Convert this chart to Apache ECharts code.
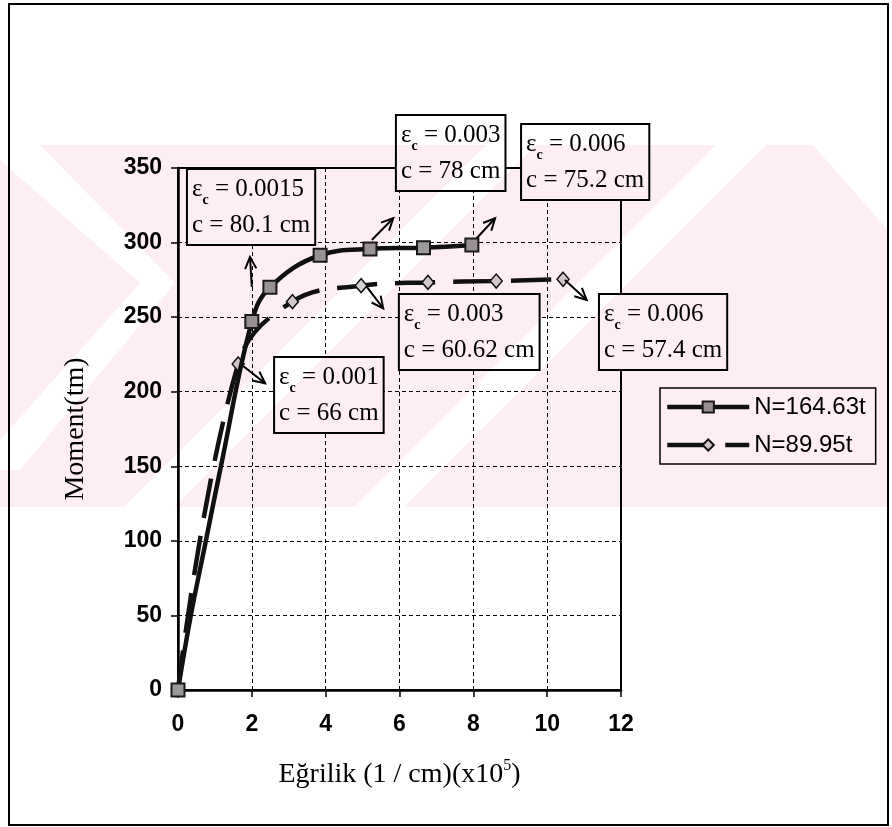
<!DOCTYPE html>
<html><head><meta charset="utf-8">
<script src="https://cdn.jsdelivr.net/npm/echarts@6/dist/echarts.min.js"></script>
<style>html,body{margin:0;padding:0;background:#fff}#c{width:892px;height:827px}</style>
</head><body><div id="c"></div>
<script>
// ---------- data ----------
const xTicks = [0, 2, 4, 6, 8, 10, 12];
const yTicks = [0, 50, 100, 150, 200, 250, 300, 350];
const s1Name = 'N=164.63t';
const s1X = [0, 0.34, 0.75, 1.16, 2.0, 2.49, 3.85, 5.2, 6.65, 7.96];
const s1Y = [0, 49, 99.4, 149.7, 247, 270, 291.5, 295.7, 296.6, 298.4];
const s1Marked = [true, false, false, false, true, true, true, true, true, true];
const s2Name = 'N=89.95t';
const s2X = [0, 1.63, 3.1, 4.96, 6.77, 8.62, 10.43];
const s2Y = [0, 218.6, 260.4, 271.1, 273.3, 274.2, 275.4];
const noteEps = ['0.0015', '0.003', '0.006', '0.001', '0.003', '0.006'];
const noteC = ['80.1', '78', '75.2', '66', '60.62', '57.4'];
// annotation placement (data units)
const noteBox = [[0.27, 348.7], [5.93, 384.9], [9.32, 378.8], [2.63, 222.6], [6.01, 264.8], [11.43, 264.8]];
const arrowFrom = [[2.0, 270.2], [5.25, 301.7], [8.09, 302.9], [1.73, 217.9], [5.11, 270.4], [10.48, 274.9]];
const arrowTo = [[1.95, 290.3], [5.83, 316.3], [8.59, 316.3], [2.36, 205.6], [5.56, 255.9], [11.07, 261.5]];

const chart = echarts.init(document.getElementById('c'), null, {renderer: 'canvas'});
const tickFont = {fontFamily: 'Liberation Sans', fontSize: 23, fontWeight: 'bold', color: '#000'};
const grid = {color: '#000', width: 1, type: [4, 3]};

chart.setOption({
  animation: false,
  backgroundColor: '#fff',
  grid: {left: 178, right: 271, top: 168, bottom: 137, show: true, borderColor: '#000', borderWidth: 2, backgroundColor: 'transparent'},
  xAxis: {
    type: 'value', min: xTicks[0], max: xTicks[xTicks.length - 1], interval: 2,
    axisLine: {show: true, onZero: false, lineStyle: {color: '#000', width: 2.5}},
    axisTick: {show: true, length: 7, lineStyle: {color: '#000', width: 1.5}},
    splitLine: {show: true, lineStyle: grid},
    axisLabel: Object.assign({margin: 23}, tickFont),
    name: 'Eğrilik (1 / cm)(x10{sup|5})',
    nameLocation: 'middle', nameGap: 68,
    nameTextStyle: {fontFamily: 'Liberation Serif', fontSize: 28, color: '#000', lineHeight: 34,
      rich: {sup: {fontFamily: 'Liberation Serif', fontSize: 16, color: '#000', verticalAlign: 'top', lineHeight: 34}}}
  },
  yAxis: {
    type: 'value', min: yTicks[0], max: yTicks[yTicks.length - 1], interval: 50,
    axisLine: {show: true, onZero: false, lineStyle: {color: '#000', width: 2.5}},
    axisTick: {show: true, length: 7, lineStyle: {color: '#000', width: 1.5}},
    splitLine: {show: true, lineStyle: grid},
    axisLabel: Object.assign({margin: 16}, tickFont),
    name: 'Moment(tm)', nameLocation: 'middle', nameGap: 88,
    nameTextStyle: {fontFamily: 'Liberation Serif', fontSize: 28, color: '#000'}
  },
  legend: {
    data: [s1Name, s2Name], orient: 'vertical', left: 660, top: 388,
    backgroundColor: '#fff', borderColor: '#000', borderWidth: 1.5,
    padding: [7, 10, 7, 5], itemWidth: 82, itemHeight: 14, itemGap: 14,
    lineStyle: {width: 4.5},
    textStyle: {fontFamily: 'Liberation Sans', fontSize: 24, color: '#000'}
  },
  series: [
    {type: 'line', name: s1Name,
     data: s1X.map((x, i) => s1Marked[i] ? [x, s1Y[i]] : {value: [x, s1Y[i]], symbol: 'none'}),
     smooth: 0.4, symbol: 'rect', symbolSize: 13, z: 4,
     itemStyle: {color: '#9a9a9a', borderColor: '#1a1a1a', borderWidth: 2},
     lineStyle: {color: '#111', width: 4.5}},
    {type: 'line', name: s2Name, data: s2X.map((x, i) => [x, s2Y[i]]), smooth: 0.4,
     symbol: 'diamond', symbolSize: [12, 14], z: 3,
     itemStyle: {color: '#d4d4d4', borderColor: '#111', borderWidth: 1.5},
     lineStyle: {color: '#111', width: 4.5, type: [40, 18]}}
  ]
});

// ---------- annotations ----------
const P = p => chart.convertToPixel({gridIndex: 0}, p);
const gfx = [];
function arrow(a, b) {
  const p0 = P(a), p1 = P(b);
  const ang = Math.atan2(p1[1] - p0[1], p1[0] - p0[0]);
  const L = 13, s = 0.45;
  const h1 = [p1[0] - L * Math.cos(ang - s), p1[1] - L * Math.sin(ang - s)];
  const h2 = [p1[0] - L * Math.cos(ang + s), p1[1] - L * Math.sin(ang + s)];
  gfx.push({type: 'polyline', z: 50, shape: {points: [p0, p1]}, style: {stroke: '#000', lineWidth: 2, fill: null}});
  gfx.push({type: 'polyline', z: 50, shape: {points: [h1, p1, h2]}, style: {stroke: '#000', lineWidth: 2, fill: null}});
}
const rich = {
  e: {fontFamily: 'Liberation Serif', fontSize: 25, lineHeight: 36, fill: '#000'},
  s: {fontFamily: 'Liberation Serif', fontSize: 14, fontWeight: 'bold', lineHeight: 28, verticalAlign: 'bottom', fill: '#000'}
};
noteEps.forEach((eps, i) => {
  const p = P(noteBox[i]);
  gfx.push({type: 'text', z: 60, x: p[0], y: p[1], style: {
    text: '{e|ε}{s|c}{e| = ' + eps + '}\n{e|c = ' + noteC[i] + ' cm}', rich: rich,
    align: 'left', verticalAlign: 'top',
    backgroundColor: '#fff', borderColor: '#000', borderWidth: 2, padding: [1, 4, 1, 4]
  }});
  arrow(arrowFrom[i], arrowTo[i]);
});
// outer frame
gfx.push({type: 'rect', z: 70, shape: {x: 9, y: 4, width: 879, height: 821}, style: {fill: null, stroke: '#000', lineWidth: 2}});

// faint watermark band (multiplied over the chart)
const wm = document.createElement('canvas');
wm.width = 892; wm.height = 827;
const g = wm.getContext('2d');
g.fillStyle = '#fff'; g.fillRect(0, 0, 892, 827);
g.fillStyle = '#fdeef1'; g.fillRect(0, 145, 887, 362);
g.fillStyle = '#fff';
function poly(pts) { g.beginPath(); g.moveTo(pts[0][0], pts[0][1]); pts.slice(1).forEach(q => g.lineTo(q[0], q[1])); g.closePath(); g.fill(); }
poly([[0, 145], [40, 145], [175, 283], [20, 470], [0, 470], [0, 440], [140, 283], [0, 160]]);
poly([[813, 145], [892, 145], [892, 235]]);
[330, 560].forEach(cx => poly([[cx - 181 - 25, 507], [cx - 181 + 25, 507], [cx + 181 + 25, 145], [cx + 181 - 25, 145]]));
gfx.push({type: 'image', z: 100, silent: true, style: {image: wm, x: 0, y: 0, width: 892, height: 827, blend: 'multiply'}});

chart.setOption({graphic: gfx});
</script></body></html>
